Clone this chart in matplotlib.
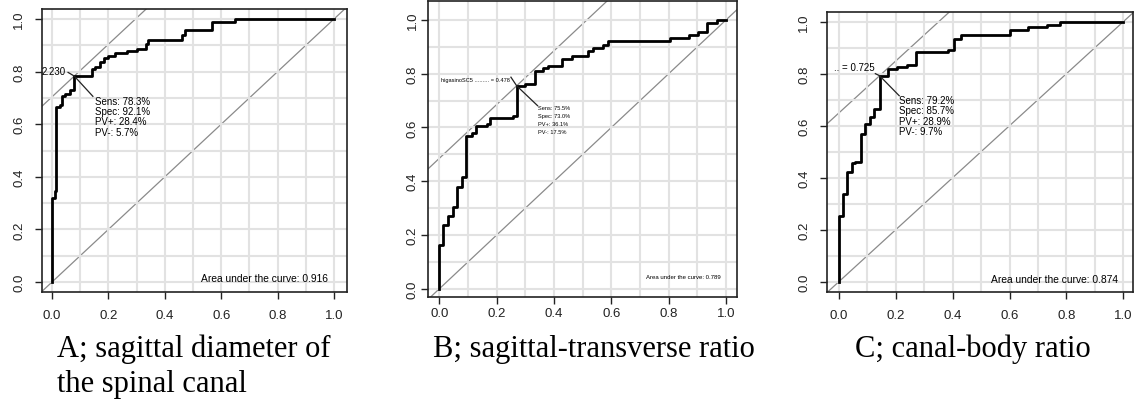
import matplotlib
matplotlib.use("Agg")
import matplotlib.pyplot as plt
import numpy as np

plt.rcParams['font.family'] = ['Liberation Sans', 'DejaVu Sans']

# ROC step curves (1 - specificity, sensitivity)
fpr_a = [0, 0, 0.009, 0.013, 0.029, 0.035, 0.047, 0.065, 0.079, 0.142, 0.153, 0.171,
         0.185, 0.2, 0.224, 0.265, 0.3, 0.333, 0.342, 0.46, 0.472, 0.568, 0.649, 1.0]
tpr_a = [0, 0.321, 0.346, 0.664, 0.673, 0.708, 0.714, 0.73, 0.783, 0.81, 0.816, 0.838,
         0.852, 0.86, 0.869, 0.877, 0.886, 0.905, 0.921, 0.939, 0.959, 0.987, 1.0, 1.0]

fpr_b = [0, 0, 0.014, 0.031, 0.049, 0.063, 0.081, 0.095, 0.113, 0.13, 0.165, 0.177, 0.258,
         0.27, 0.299, 0.334, 0.363, 0.38, 0.427, 0.462, 0.52, 0.537, 0.572, 0.59, 0.805,
         0.869, 0.903, 0.935, 0.967, 1.0]
tpr_b = [0, 0.164, 0.238, 0.27, 0.304, 0.378, 0.415, 0.57, 0.58, 0.607, 0.613, 0.637, 0.644,
         0.755, 0.762, 0.811, 0.82, 0.829, 0.855, 0.865, 0.886, 0.895, 0.907, 0.923, 0.932,
         0.942, 0.954, 0.989, 1.0, 1.0]

fpr_c = [0, 0, 0.015, 0.029, 0.045, 0.056, 0.076, 0.091, 0.109, 0.124, 0.143, 0.173, 0.203,
         0.238, 0.27, 0.385, 0.405, 0.429, 0.601, 0.666, 0.733, 0.777, 1.0]
tpr_c = [0, 0.254, 0.337, 0.423, 0.455, 0.462, 0.568, 0.606, 0.632, 0.664, 0.792, 0.818,
         0.827, 0.835, 0.882, 0.892, 0.933, 0.949, 0.969, 0.978, 0.987, 1.0, 1.0]

sens = [78.3, 75.5, 79.2]
spec = [92.1, 73.0, 85.7]
ppv = [28.4, 36.1, 28.9]
npv = [5.7, 17.5, 9.7]
cutoff_labels = ["2.230", "higasinoSC5 ......... = 0.478", ".. = 0.725"]
auc = [0.916, 0.789, 0.874]
captions = ["A; sagittal diameter of\nthe spinal canal",
            "B; sagittal-transverse ratio",
            "C; canal-body ratio"]
ticks = [0.0, 0.2, 0.4, 0.6, 0.8, 1.0]

W, H = 1135, 410
fig = plt.figure(figsize=(W / 100, H / 100), dpi=100)


def px_axes(l, t, r, b):
    return fig.add_axes([l / W, 1 - b / H, (r - l) / W, (b - t) / H])


def draw(ax, fpr, tpr, i, xlim, ylim, fs, pad, cut_xy, seg_ul, seg_lr, txt_xy, dy, auc_y):
    ax.set_xlim(*xlim)
    ax.set_ylim(*ylim)
    ax.set_xticks(ticks)
    ax.set_yticks(ticks)
    ax.set_xticklabels(["%.1f" % t for t in ticks])
    ax.set_yticklabels(["%.1f" % t for t in ticks], rotation=90, va='center')
    ax.set_xticks(np.arange(0, 1.01, 0.1), minor=True)
    ax.set_yticks(np.arange(0, 1.01, 0.1), minor=True)
    ax.tick_params(which='minor', length=0)
    ax.tick_params(which='major', length=5, width=1, pad=pad, labelsize=9.5, colors='#222222')
    ax.grid(which='both', color='#e2e2e2', lw=1.5, zorder=0)
    for s in ax.spines.values():
        s.set_linewidth(1.2)
        s.set_color('#222222')

    ax.axline((0, 0), slope=1, color='#8a8a8a', lw=0.9, zorder=1)
    px, py = 1 - spec[i] / 100, sens[i] / 100
    ax.axline((px, py), slope=1, color='#8a8a8a', lw=0.9, zorder=1)

    ax.plot(fpr, tpr, drawstyle='steps-post', color='black', lw=2.0, zorder=3)

    ax.plot([seg_ul[0], px, seg_lr[0]], [seg_ul[1], py, seg_lr[1]], color='#222222', lw=0.9, zorder=4)
    ax.text(cut_xy[0], cut_xy[1], cutoff_labels[i], fontsize=fs, ha='right', va='center',
            clip_on=True, zorder=5)
    lines = ["Sens: %.1f%%" % sens[i], "Spec: %.1f%%" % spec[i],
             "PV+: %.1f%%" % ppv[i], "PV-: %.1f%%" % npv[i]]
    for k, s in enumerate(lines):
        ax.text(txt_xy[0], txt_xy[1] - k * dy, s, fontsize=fs, ha='left', va='center', zorder=5)
    ax.text(0.98, auc_y, "Area under the curve: %.3f" % auc[i], fontsize=fs * 1.05,
            ha='right', va='center', zorder=5)


ax_a = px_axes(41.7, 10, 346.7, 293.3)
draw(ax_a, fpr_a, tpr_a, 0, (-0.0365, 1.045), (-0.039, 1.038), 7.0, 7,
     (0.047, 0.801), (0.057, 0.797), (0.145, 0.706), (0.152, 0.689), 0.039, 0.015)

ax_b = px_axes(428.3, 1.5, 736.7, 298)
draw(ax_b, fpr_b, tpr_b, 1, (-0.038, 1.037), (-0.030, 1.072), 4.1, 2,
     (0.247, 0.778), (0.25, 0.787), (0.343, 0.681), (0.343, 0.673), 0.029, 0.047)

ax_c = px_axes(826.7, 13.3, 1133.3, 293.3)
draw(ax_c, fpr_c, tpr_c, 2, (-0.043, 1.035), (-0.041, 1.036), 7.0, 7,
     (0.124, 0.825), (0.128, 0.80), (0.212, 0.715), (0.212, 0.699), 0.04, 0.01)

cap_x = [57, 433, 855]
for x, c in zip(cap_x, captions):
    fig.text(x / W, 1 - 335 / H, c, fontsize=22, family='Liberation Serif',
             ha='left', va='top', linespacing=1.25)

fig.savefig("out.png", dpi=100, facecolor='white')
